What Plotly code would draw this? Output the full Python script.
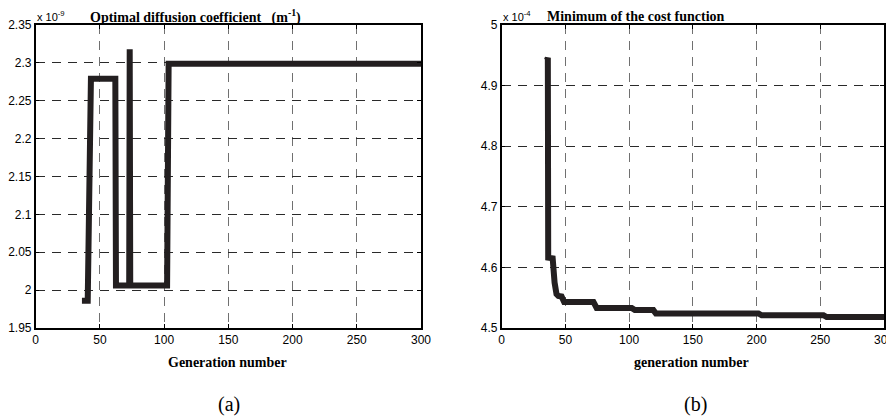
import plotly.graph_objects as go

# the page body has an 8px margin, so the figure is drawn 8px in from the window edge
OFF = 8
W, H = 894 - OFF, 418 - OFF

# (a) optimal diffusion coefficient, in units of 1e-9 m^-1
gen_a = [36, 40.5, 43, 62, 62.5, 72.8, 73.2, 73.6, 102.3, 103.5, 300]
coef_a = [1.986, 1.986, 2.279, 2.279, 2.006, 2.006, 2.318, 2.006, 2.006, 2.299, 2.299]

# (b) minimum of the cost function, in units of 1e-4
gen_b = [35.5, 36.2, 36.5, 40, 41.5, 43, 44.5, 47, 49, 72, 74.5, 102, 104.5,
         119, 121, 201.5, 204, 252.5, 255, 300]
cost_b = [4.942, 4.946, 4.616, 4.615, 4.575, 4.556, 4.553, 4.552, 4.543, 4.543,
          4.533, 4.533, 4.5295, 4.5295, 4.524, 4.524, 4.521, 4.521, 4.518, 4.518]

x_ticks = [0, 50, 100, 150, 200, 250, 300]
y_ticks_a = [1.95, 2.0, 2.05, 2.1, 2.15, 2.2, 2.25, 2.3, 2.35]
y_ticks_b = [4.5, 4.6, 4.7, 4.8, 4.9, 5.0]

LINE = "#231f20"
TICKFONT = dict(family="Liberation Sans, Arial, sans-serif", size=12, color="black")


def px(x):
    return (x - OFF) / W


def py(y):
    return 1 - (y - OFF) / H


fig = go.Figure()
fig.add_trace(go.Scatter(x=gen_a, y=coef_a, mode="lines", xaxis="x", yaxis="y",
                         line=dict(color=LINE, width=6), showlegend=False))
fig.add_trace(go.Scatter(x=gen_b, y=cost_b, mode="lines", xaxis="x2", yaxis="y2",
                         line=dict(color=LINE, width=6), showlegend=False))

ydom = [py(328), py(25)]


def xax(dom, anchor):
    return dict(domain=dom, anchor=anchor, range=[0, 300], tickvals=x_ticks,
                showgrid=True, gridcolor="#707070", griddash="9px,7px", gridwidth=1,
                showline=True, linecolor="black", linewidth=1.5, mirror="ticks",
                ticks="inside", ticklen=4, tickcolor="black", tickfont=TICKFONT,
                ticklabeloverflow="allow",
                zeroline=False, fixedrange=True, automargin=False)


def yax(rng, vals, anchor):
    return dict(domain=ydom, anchor=anchor, range=rng, tickvals=vals,
                showgrid=True, gridcolor="#2a2a2a", griddash="9px,7px", gridwidth=1,
                showline=True, linecolor="black", linewidth=1.5, mirror="ticks",
                ticks="inside", ticklen=4, tickcolor="black", tickfont=TICKFONT,
                zeroline=False, fixedrange=True, automargin=False)


ann = []
SERIF = "Liberation Serif, Times New Roman, serif"
SANS = "Liberation Sans, Arial, sans-serif"
ann.append(dict(text="x 10<sup>-9</sup>", x=px(35), y=py(15.5), xanchor="left", yanchor="middle",
                font=dict(family=SANS, size=11, color="black")))
ann.append(dict(text="<b>Optimal diffusion coefficient   (m<sup>-1</sup>)</b>", x=px(195), y=py(16.5),
                xanchor="center", yanchor="middle", font=dict(family=SERIF, size=14, color="black")))
ann.append(dict(text="x 10<sup>-4</sup>", x=px(501), y=py(15.5), xanchor="left", yanchor="middle",
                font=dict(family=SANS, size=11, color="black")))
ann.append(dict(text="<b>Minimum of the cost function</b>", x=px(636), y=py(16),
                xanchor="center", yanchor="middle", font=dict(family=SERIF, size=14, color="black")))
ann.append(dict(text="<b>Generation number</b>", x=px(227), y=py(362), xanchor="center", yanchor="middle",
                font=dict(family=SERIF, size=14, color="black")))
ann.append(dict(text="<b>generation number</b>", x=px(691), y=py(362), xanchor="center", yanchor="middle",
                font=dict(family=SERIF, size=14, color="black")))
ann.append(dict(text="(a)", x=px(229), y=py(404), xanchor="center", yanchor="middle",
                font=dict(family=SERIF, size=20, color="black")))
ann.append(dict(text="(b)", x=px(695), y=py(404), xanchor="center", yanchor="middle",
                font=dict(family=SERIF, size=20, color="black")))
for a in ann:
    a.update(xref="paper", yref="paper", showarrow=False)

fig.update_layout(
    width=W, height=H, margin=dict(l=0, r=0, t=0, b=0, autoexpand=False),
    paper_bgcolor="white", plot_bgcolor="white",
    xaxis=xax([px(35.7), px(421)], "y"),
    yaxis=yax([1.95, 2.35], y_ticks_a, "x"),
    xaxis2=xax([px(501.7), px(884)], "y2"),
    yaxis2=yax([4.5, 5.0], y_ticks_b, "x2"),
    annotations=ann,
    showlegend=False,
)

fig.write_html("out.html")
